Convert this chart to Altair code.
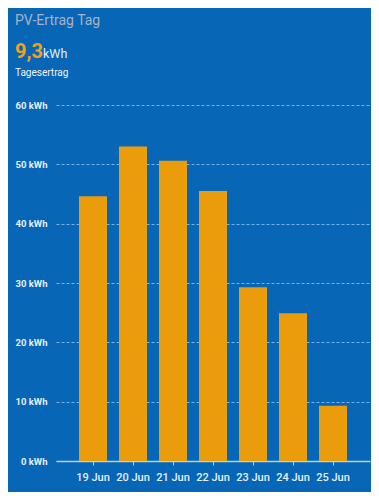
import altair as alt
import pandas as pd

days = ["19 Jun", "20 Jun", "21 Jun", "22 Jun", "23 Jun", "24 Jun", "25 Jun"]
kwh = [44.6, 53.0, 50.6, 45.5, 29.3, 24.9, 9.3]

title_text = "PV-Ertrag Tag"
value_text = "9,3"
unit_text = "kWh"
sub_text = "Tagesertrag"

df = pd.DataFrame({"day": days, "kwh": kwh})

BG = "#0766b6"
FONT = "Roboto"

bars = alt.Chart(df).mark_bar(color="#eb9c0b").encode(
    x=alt.X("day:N", sort=days, title=None,
            scale=alt.Scale(paddingInner=0.3, paddingOuter=0.575),
            axis=alt.Axis(labelAngle=0, labelFont=FONT, labelFontSize=11,
                          labelFontWeight=500, labelColor="#e6eef7",
                          labelPadding=6, tickSize=4, tickColor="#b9d2ec",
                          domainColor="#b9d2ec", domainWidth=1.5, grid=False)),
    y=alt.Y("kwh:Q", title=None,
            scale=alt.Scale(domain=[0, 60], nice=False),
            axis=alt.Axis(values=[0, 10, 20, 30, 40, 50, 60],
                          labelExpr="datum.value + ' kWh'",
                          labelFont=FONT, labelFontSize=9.5, labelFontWeight="bold",
                          labelColor="#e6eef7", labelPadding=9,
                          ticks=False, domain=False, grid=True,
                          gridColor="#74b4ee", gridDash=[3, 2], gridWidth=1)),
)

def txt(s, x, y, size, color, weight="normal"):
    return alt.Chart(pd.DataFrame({"t": [s]})).mark_text(
        align="left", baseline="alphabetic", font=FONT, fontSize=size,
        fontWeight=weight, color=color
    ).encode(text="t:N", x=alt.value(x), y=alt.value(y))

chart = alt.layer(
    bars,
    txt(title_text, -41, -80, 14, "#a7b3c3"),
    txt(value_text, -41, -47, 20, "#f2a11e", "bold"),
    txt(unit_text, -13, -47, 12.5, "#e6eef7"),
    txt(sub_text, -41, -29, 10, "#f0f4fa"),
).properties(
    width=314, height=356,
    padding={"left": 48, "top": 97, "right": 1, "bottom": 31},
    autosize=alt.AutoSizeParams(type="none"),
    background=BG,
).configure_view(stroke=None, fill=BG)

chart.save("out.html", embed_options={"renderer": "svg", "actions": False})
